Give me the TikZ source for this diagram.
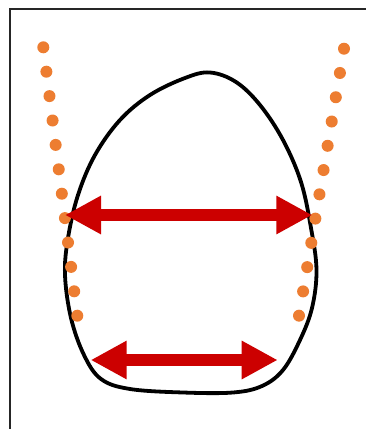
\documentclass[tikz,border=0pt]{standalone}
\usetikzlibrary{arrows.meta}
\definecolor{dotorange}{HTML}{ED7D31}
\definecolor{arrowred}{HTML}{CC0000}
\tikzset{
  frameline/.style={draw=black!85, line width=1.4pt},
  outline/.style={draw=black, line width=3.8pt, line join=round},
  dotstyle/.style={fill=dotorange},
  widtharrow/.style={draw=arrowred, line width=12pt,
    {Triangle[length=36pt,width=36pt]}-{Triangle[length=36pt,width=36pt]}}
}
\begin{document}
\begin{tikzpicture}[x=1pt,y=-1pt]
\useasboundingbox (0,0) rectangle (365,429);
\fill[white] (0,0) rectangle (365,429);
% frame
\coordinate (fb) at (10,432);
\coordinate (fc) at (10,9);
\coordinate (fr) at (368,9);
\draw[frameline] (fb) -- (fc) -- (fr);
% egg outline
\draw[outline] plot[smooth cycle, tension=0.6] coordinates {
 (210,72.5) (236,82) (260,105) (283,140) (301,182) (311,228)
 (316.5,270) (312,308) (300,340) (283,370) (262,386) (233,392.5)
 (183,392.5) (130,389) (101,379) (84,355) (71,318) (65,275)
 (68,238) (78,195) (95,155) (120,120) (150,95) (185,78)};
% dots
\foreach \i in {0,...,11} {
  \fill[dotstyle] ({43.3+3.09*\i},{47.3+24.4*\i}) circle (6);
  \fill[dotstyle] ({344-4.09*\i},{48.7+24.27*\i}) circle (6);
}
% arrows
\coordinate (ua) at (65,215);
\coordinate (ub) at (312.3,215);
\coordinate (la) at (90.7,360);
\coordinate (lb) at (277.7,360);
\draw[widtharrow] (ua) -- (ub);
\draw[widtharrow] (la) -- (lb);
\end{tikzpicture}
\end{document}
